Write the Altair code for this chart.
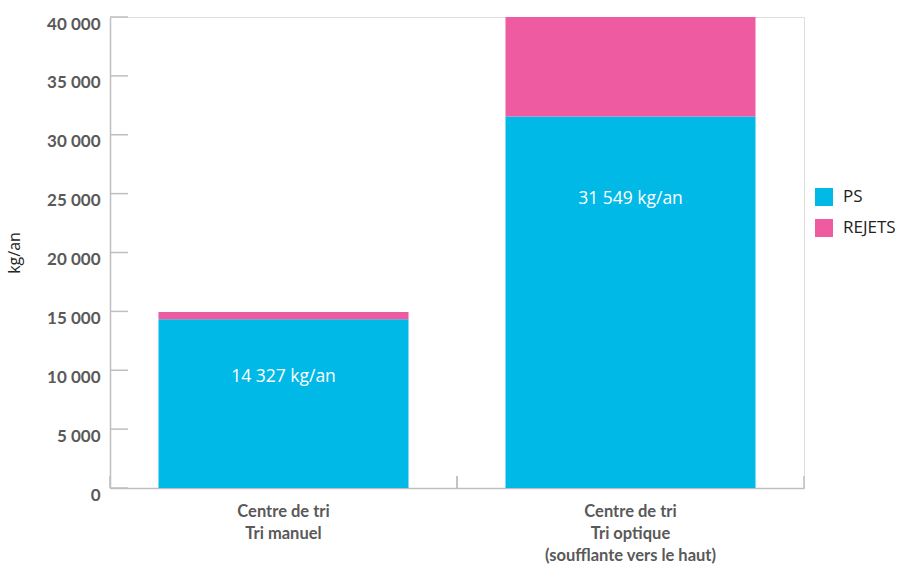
import altair as alt
import pandas as pd

categories = ["Centre de tri\nTri manuel", "Centre de tri\nTri optique\n(soufflante vers le haut)"]
series = ["PS", "REJETS"]
ps_values = [14327, 31549]
rejets_values = [620, 8451]
value_labels = ["14 327 kg/an", "31 549 kg/an"]
label_anchor = [9430, 24540]
y_ticks = [0, 5000, 10000, 15000, 20000, 25000, 30000, 35000, 40000]
colors = ["#00B9E6", "#EE5BA1"]

W, H = 694, 471

rows = []
for c, ps, rj in zip(categories, ps_values, rejets_values):
    rows.append({"cat": c, "series": series[0], "value": ps, "order": 0})
    rows.append({"cat": c, "series": series[1], "value": rj, "order": 1})
df = pd.DataFrame(rows)
df_lab = pd.DataFrame({"cat": categories, "value": label_anchor, "label": value_labels})
df_yt = pd.DataFrame({"value": y_ticks})
df_xt = pd.DataFrame({"cat": categories})

xscale = alt.Scale(domain=categories, paddingInner=0, paddingOuter=0)
yscale = alt.Scale(domain=[0, 40000], nice=False)
xaxis = alt.Axis(
    title=None, labelAngle=0, labelExpr="split(datum.label, '\\n')",
    labelLineHeight=22, labelPadding=15, labelFontSize=16.5, labelFontWeight="bold",
    labelColor="#595959", labelFont="Lato", ticks=False, domainColor="#BFBFBF",
    domainWidth=1.5, labelBaseline="top",
)
yaxis = alt.Axis(
    title="kg/an", values=y_ticks, labelExpr="replace(format(datum.value, ','), ',', ' ')",
    labelFontSize=17, labelFontWeight="bold", labelColor="#595959", labelFont="Lato",
    labelPadding=10, labelOffset=7, ticks=False, grid=False, domainColor="#BFBFBF",
    domainWidth=1.5, titleFontSize=16, titleFontWeight="normal", titleColor="#222222",
    titleFont="Open Sans", titlePadding=24,
)

x_enc = alt.X("cat:N", scale=xscale, axis=xaxis, sort=categories)

bars = alt.Chart(df).mark_bar(size=250).encode(
    x=x_enc,
    y=alt.Y("value:Q", scale=yscale, axis=yaxis, stack="zero"),
    color=alt.Color(
        "series:N",
        scale=alt.Scale(domain=series, range=colors),
        legend=alt.Legend(
            title=None, orient="none", legendX=705, legendY=171, symbolType="square",
            symbolSize=324, symbolStrokeWidth=0, labelFontSize=17, labelFont="Open Sans",
            labelColor="#222222", rowPadding=13, labelOffset=10,
        ),
    ),
    order=alt.Order("order:Q"),
)

texts = alt.Chart(df_lab).mark_text(
    color="white", fontSize=17.5, font="Open Sans", align="center", baseline="middle"
).encode(
    x=x_enc,
    y=alt.Y("value:Q", scale=yscale, axis=yaxis, stack=None),
    text="label:N",
)

yticks = alt.Chart(df_yt).mark_rule(color="#BFBFBF", strokeWidth=1.5).encode(
    y=alt.Y("value:Q", scale=yscale, axis=yaxis),
    x=alt.value(0),
    x2=alt.value(18),
)

xticks_start = alt.Chart(df_xt).mark_rule(color="#BFBFBF", strokeWidth=1.5).encode(
    x=alt.X("cat:N", scale=xscale, axis=xaxis, sort=categories, bandPosition=0),
    y=alt.value(H - 12),
    y2=alt.value(H),
)
xticks_end = alt.Chart(df_xt).mark_rule(color="#BFBFBF", strokeWidth=1.5).encode(
    x=alt.X("cat:N", scale=xscale, axis=xaxis, sort=categories, bandPosition=1),
    y=alt.value(H - 12),
    y2=alt.value(H),
)

chart = alt.layer(bars, texts, yticks, xticks_start, xticks_end).properties(
    width=W, height=H,
    autosize=alt.AutoSizeParams(type="none"),
    padding={"left": 110, "top": 17, "right": 94, "bottom": 77},
).configure_view(stroke=None).configure(background="white")

chart.save("out.html", embed_options={"renderer": "svg", "actions": False})
